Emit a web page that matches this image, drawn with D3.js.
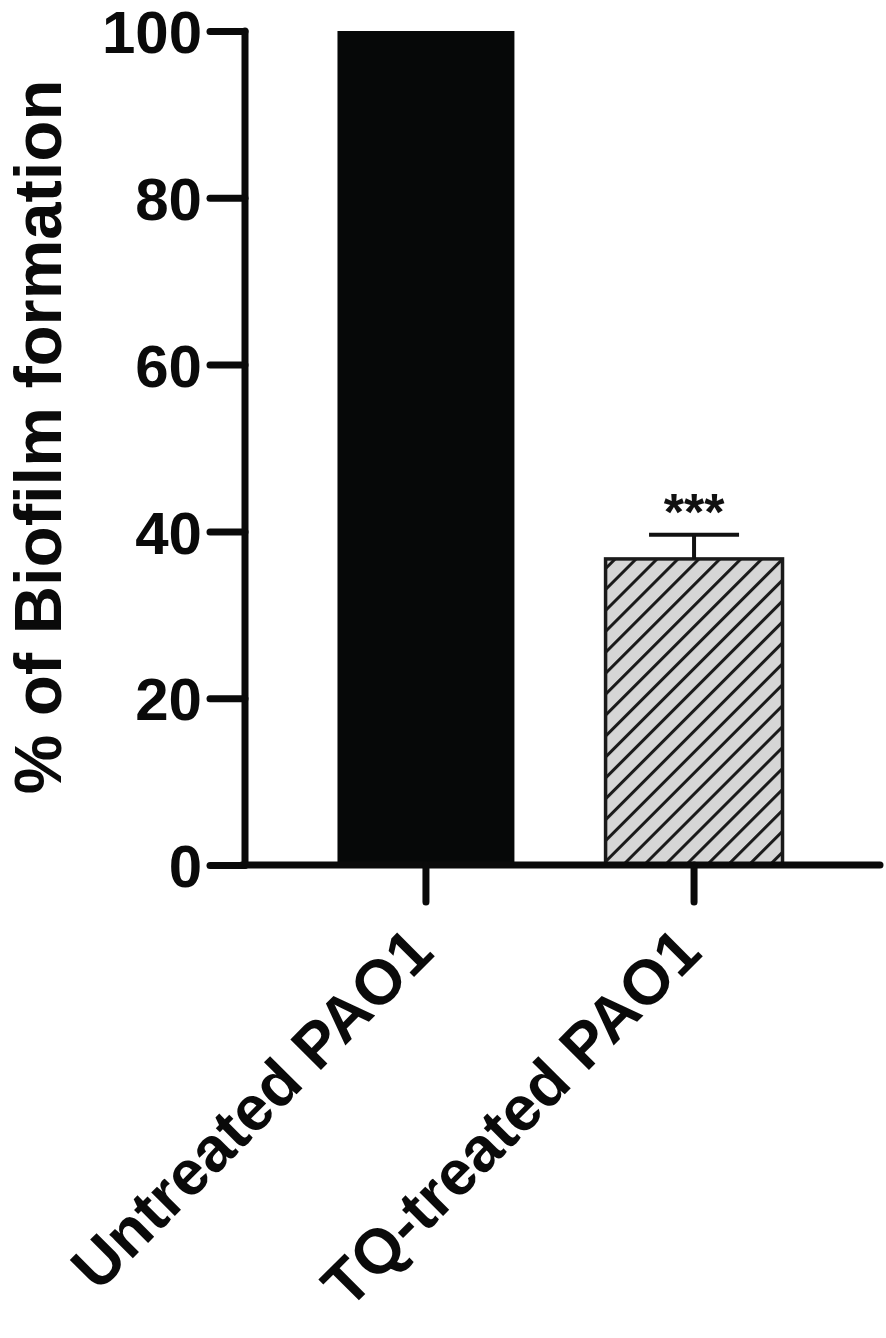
<!DOCTYPE html>
<html><head><meta charset="utf-8">
<script src="https://cdn.jsdelivr.net/npm/d3@7"></script>
<style>body{margin:0;background:#fff}svg{display:block}</style>
</head><body>
<script>
const categories = ["Untreated PAO1", "TQ-treated PAO1"];
const values = [100, 36.7];
const errors = [0, 2.9];
const yTicks = [0, 20, 40, 60, 80, 100];
const significance = ["", "***"];

const W = 886, H = 1338;
const svg = d3.select("body").append("svg").attr("width", W).attr("height", H);
const font = "'Liberation Sans', Arial, sans-serif";

const defs = svg.append("defs");
const pat = defs.append("pattern").attr("id", "hatch").attr("patternUnits", "userSpaceOnUse")
  .attr("width", 14.8).attr("height", 14.8).attr("patternTransform", "rotate(45)");
pat.append("rect").attr("width", 14.8).attr("height", 14.8).attr("fill", "#d6d6d6");
pat.append("line").attr("x1", 0).attr("y1", 0).attr("x2", 0).attr("y2", 14.8)
  .attr("stroke", "#1a1a1a").attr("stroke-width", 6);

const y = d3.scaleLinear().domain([0, 100]).range([865, 31]);
const x = d3.scaleBand().domain(categories).range([291.9, 828.1]).paddingInner(0.34).paddingOuter(0.17);

// bars
const bars = svg.append("g");
bars.selectAll("rect").data(categories).join("rect")
  .attr("x", d => x(d)).attr("width", x.bandwidth())
  .attr("y", (d, i) => y(values[i])).attr("height", (d, i) => y(0) - y(values[i]))
  .attr("fill", (d, i) => i === 0 ? "#060808" : "url(#hatch)")
  .attr("stroke", (d, i) => i === 0 ? "none" : "#1a1a1a")
  .attr("stroke-width", 3.5);

// error bars
categories.forEach((c, i) => {
  if (!errors[i]) return;
  const cx = x(c) + x.bandwidth() / 2;
  const g = svg.append("g").attr("stroke", "#111").attr("stroke-width", 4);
  g.append("line").attr("x1", cx).attr("x2", cx).attr("y1", y(values[i])).attr("y2", y(values[i] + errors[i]));
  g.append("line").attr("x1", cx - 45).attr("x2", cx + 45).attr("y1", y(values[i] + errors[i])).attr("y2", y(values[i] + errors[i]));
  svg.append("text").attr("x", cx).attr("y", y(values[i] + errors[i]) - 5)
    .attr("text-anchor", "middle").attr("font-family", font).attr("font-weight", "bold").attr("font-size", 52)
    .attr("fill", "#111").text(significance[i]);
});

// y axis
const yAxis = svg.append("g").attr("transform", "translate(245,0)")
  .call(d3.axisLeft(y).tickValues(yTicks).tickSize(35).tickPadding(8).tickFormat(d3.format("d")));
yAxis.select(".domain").attr("stroke", "#0a0a0a").attr("stroke-width", 7).attr("d", `M0,${y(100)}V${y(0)}`).attr("stroke-linecap", "round");
yAxis.selectAll(".tick line").attr("stroke", "#0a0a0a").attr("stroke-width", 7).attr("stroke-linecap", "round");
yAxis.selectAll(".tick text").attr("font-family", font).attr("font-weight", "bold")
  .attr("font-size", 60).attr("fill", "#0a0a0a").attr("dy", "0.36em");

// x axis
const xAxis = svg.append("g").attr("transform", `translate(0,${y(0)})`)
  .call(d3.axisBottom(x).tickSize(37).tickFormat(""));
xAxis.select(".domain").attr("stroke", "#0a0a0a").attr("stroke-width", 7).attr("d", "M242,0H880").attr("stroke-linecap", "round");
xAxis.selectAll(".tick line").attr("stroke", "#0a0a0a").attr("stroke-width", 7).attr("stroke-linecap", "round");

// x labels
svg.append("g").selectAll("text").data(categories).join("text")
  .attr("transform", d => `translate(${x(d) + x.bandwidth() / 2 + 10},${955}) rotate(-45)`)
  .attr("text-anchor", "end").attr("font-family", font).attr("font-weight", "bold")
  .attr("font-size", 63).attr("fill", "#0a0a0a").text(d => d);

// y label
svg.append("text").attr("transform", `translate(61,${437}) rotate(-90)`)
  .attr("text-anchor", "middle").attr("font-family", font).attr("font-weight", "bold")
  .attr("font-size", 67).attr("fill", "#0a0a0a").text("% of Biofilm formation");
</script>
</body></html>
